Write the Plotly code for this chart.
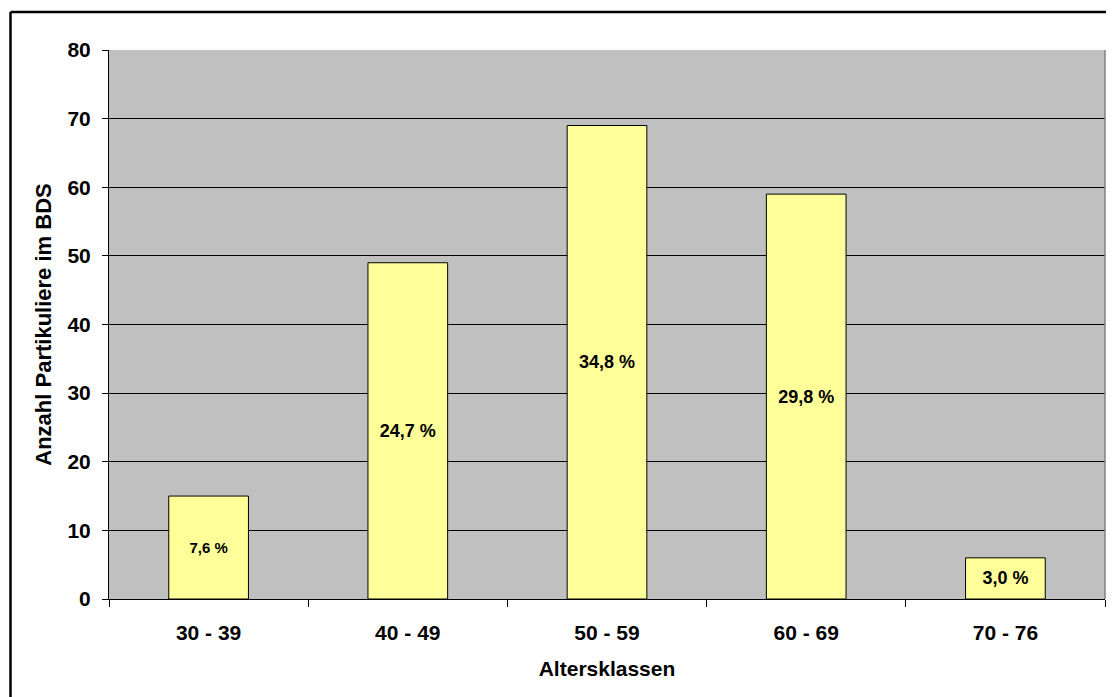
import plotly.graph_objects as go

categories = ["30 - 39", "40 - 49", "50 - 59", "60 - 69", "70 - 76"]
counts = [15, 49, 69, 59, 6]
pct_labels = ["7,6 %", "24,7 %", "34,8 %", "29,8 %", "3,0 %"]
label_sizes = [15, 18, 18, 18, 18]
y_ticks = [0, 10, 20, 30, 40, 50, 60, 70, 80]

FONT = "Arial, 'Liberation Sans', sans-serif"

fig = go.Figure()
fig.add_trace(go.Bar(
    x=categories,
    y=counts,
    width=0.4,
    marker=dict(color="#FFFF99", line=dict(color="black", width=1)),
    text=pct_labels,
    textposition="inside",
    insidetextanchor="middle",
    constraintext="none",
    textangle=0,
    textfont=dict(family=FONT, size=label_sizes, color="black", weight="bold"),
    hoverinfo="skip",
))

fig.update_layout(
    width=1106,
    height=689,
    margin=dict(l=101, r=9, t=42, b=98),
    paper_bgcolor="white",
    plot_bgcolor="#C0C0C0",
    showlegend=False,
    font=dict(family=FONT, color="black"),
    shapes=[
        # outer chart frame (left and top visible)
        dict(type="line", xref="paper", yref="paper", x0=-0.0989, x1=1.2, y0=1.0692, y1=1.0692,
             line=dict(color="black", width=2.5)),
        dict(type="line", xref="paper", yref="paper", x0=-0.0989, x1=-0.0989, y0=-0.3, y1=1.0692,
             line=dict(color="black", width=2.5)),
        # plot area right border
        dict(type="line", xref="paper", yref="paper", x0=1, x1=1, y0=0, y1=1,
             line=dict(color="#808080", width=1.5)),
    ],
)

fig.update_xaxes(
    showgrid=False,
    showline=True,
    linecolor="black",
    linewidth=1,
    ticks="outside",
    tickson="boundaries",
    ticklen=7,
    tickcolor="black",
    ticklabelstandoff=15,
    tickfont=dict(family=FONT, size=21, color="black", weight="bold"),
    title=dict(text="Altersklassen", font=dict(family=FONT, size=21, color="black", weight="bold"),
               standoff=18),
)

fig.update_yaxes(
    range=[0, 80],
    tickvals=y_ticks,
    showgrid=True,
    gridcolor="black",
    gridwidth=1,
    zeroline=False,
    showline=True,
    linecolor="black",
    linewidth=1,
    ticks="outside",
    ticklen=6,
    tickcolor="black",
    ticklabelstandoff=7,
    tickfont=dict(family=FONT, size=21, color="black", weight="bold"),
    title=dict(text="Anzahl Partikuliere im BDS", font=dict(family=FONT, size=22, color="black", weight="bold"),
               standoff=9),
)

fig.write_html("out.html")
